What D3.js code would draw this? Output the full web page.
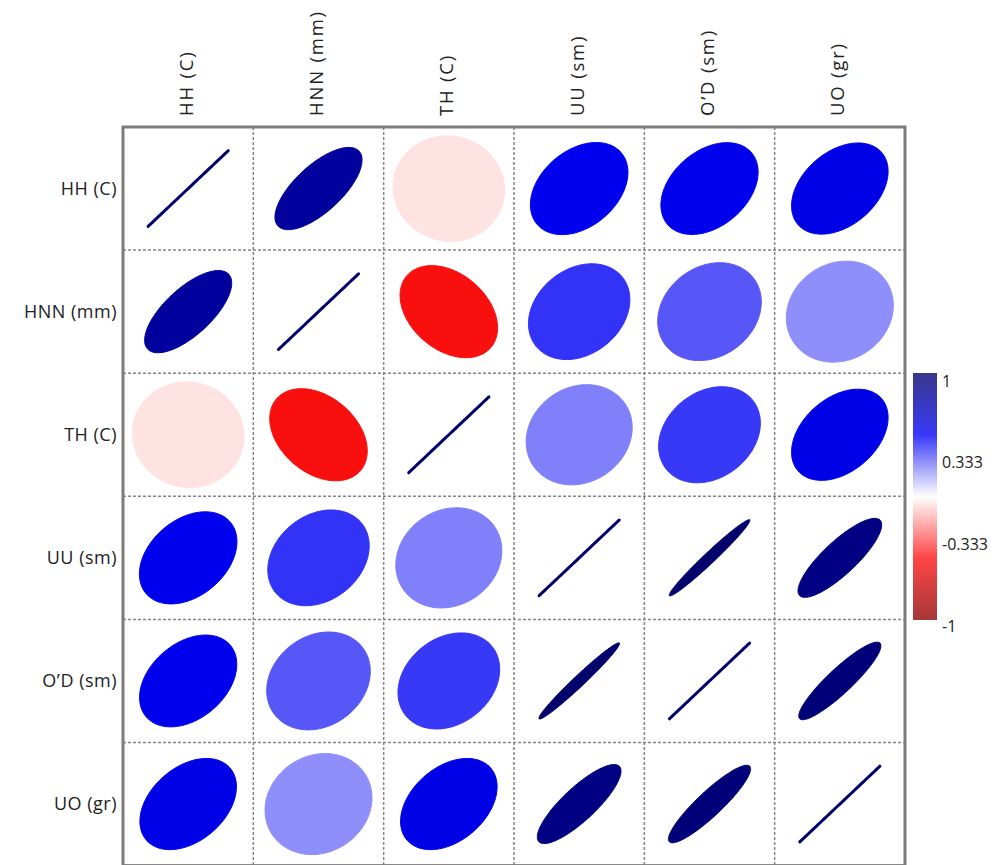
<!DOCTYPE html>
<html>
<head>
<meta charset="utf-8">
<script src="https://cdn.jsdelivr.net/npm/d3@7"></script>
<style>
  html, body { margin: 0; padding: 0; background: #ffffff; }
  svg { display: block; }
  text { font-family: "Open Sans", "Noto Sans", sans-serif; fill: #222; }
</style>
</head>
<body>
<svg id="chart" width="1006" height="865"></svg>
<script>
// ---- data ----
const variables = ["HH (C)", "HNN (mm)", "TH (C)", "UU (sm)", "O\u2019D (sm)", "UO (gr)"];
// correlations, row by row
const rowHH  = [1.00, 0.82, -0.06, 0.52, 0.53, 0.55];
const rowHNN = [0.82, 1.00, -0.52, 0.40, 0.33, 0.22];
const rowTH  = [-0.06, -0.52, 1.00, 0.25, 0.39, 0.55];
const rowUU  = [0.52, 0.40, 0.25, 1.00, 0.99, 0.91];
const rowOD  = [0.53, 0.33, 0.39, 0.99, 1.00, 0.95];
const rowUO  = [0.55, 0.22, 0.55, 0.91, 0.95, 1.00];
const legendTicks = [1, 0.333, -0.333, -1];
const legendTickLabels = ["1", "0.333", "-0.333", "-1"];

const matrix = [rowHH, rowHNN, rowTH, rowUU, rowOD, rowUO];

// ---- layout ----
const svg = d3.select("#chart");
const plotLeft = 123, plotTop = 127, plotRight = 905, cellH = 123.1;
const plotBottom = plotTop + cellH * variables.length;

const x = d3.scaleBand().domain(variables).range([plotLeft, plotRight]);
const y = d3.scaleBand().domain(variables).range([plotTop, plotBottom]);

const color = d3.scaleLinear()
  .domain([-1, -0.5, 0, 0.5, 1])
  .range(["#8b0000", "#ff1010", "#ffffff", "#0000f5", "#00006a"])
  .interpolate(d3.interpolateRgb);

const cells = [];
matrix.forEach((row, i) => row.forEach((r, j) => cells.push({row: variables[i], col: variables[j], r})));

// ellipse path: major axis fixed, minor axis = sqrt(1 - |r|) of it
const scaleFill = 0.87;
function ellipsePath(d) {
  const cx = x(d.col) + x.bandwidth() / 2;
  const cy = y(d.row) + y.bandwidth() / 2;
  const hx = scaleFill * x.bandwidth() / 2;
  const hy = scaleFill * y.bandwidth() / 2;
  const s = d.r >= 0 ? 1 : -1;
  const g = Math.sqrt(Math.max(0, 1 - Math.abs(d.r)));
  const ux = 1 / Math.SQRT2, uy = -s / Math.SQRT2;
  const vx = 1 / Math.SQRT2, vy = s / Math.SQRT2;
  const pts = d3.range(0, 121).map(k => {
    const t = k / 120 * 2 * Math.PI;
    const px = Math.cos(t) * ux + g * Math.sin(t) * vx;
    const py = Math.cos(t) * uy + g * Math.sin(t) * vy;
    return [cx + hx * px, cy + hy * py];
  });
  return d3.line()(pts) + "Z";
}

// ellipses
svg.append("g").selectAll("path")
  .data(cells)
  .join("path")
  .attr("d", ellipsePath)
  .attr("fill", d => color(d.r))
  .attr("stroke", d => color(d.r))
  .attr("stroke-width", d => d.r >= 0.999 ? 3 : 1)
  .attr("stroke-linejoin", "round")
  .attr("stroke-linecap", "round");

// inner dashed grid
const grid = svg.append("g");
variables.slice(1).forEach(v => {
  grid.append("line")
    .attr("x1", x(v)).attr("x2", x(v)).attr("y1", plotTop).attr("y2", plotBottom)
    .attr("stroke", "#858585").attr("stroke-width", 1.5).attr("stroke-dasharray", "3,2");
  grid.append("line")
    .attr("y1", y(v)).attr("y2", y(v)).attr("x1", plotLeft).attr("x2", plotRight)
    .attr("stroke", "#858585").attr("stroke-width", 1.5).attr("stroke-dasharray", "3,2");
});

// outer border
svg.append("rect")
  .attr("x", plotLeft).attr("y", plotTop)
  .attr("width", plotRight - plotLeft).attr("height", plotBottom - plotTop)
  .attr("fill", "none").attr("stroke", "#7c7c7c").attr("stroke-width", 3);

// row labels
svg.append("g").selectAll("text")
  .data(variables)
  .join("text")
  .attr("x", plotLeft - 6)
  .attr("y", d => y(d) + y.bandwidth() / 2)
  .attr("dy", "0.35em")
  .attr("text-anchor", "end")
  .attr("font-size", 18)
  .attr("letter-spacing", 0.5)
  .text(d => d);

// column labels (rotated)
svg.append("g").selectAll("text")
  .data(variables)
  .join("text")
  .attr("transform", d => `translate(${x(d) + x.bandwidth() / 2 - 2},${plotTop - 11}) rotate(-90)`)
  .attr("dy", "0.35em")
  .attr("text-anchor", "start")
  .attr("font-size", 18.5)
  .attr("letter-spacing", 1.8)
  .text(d => d);

// legend
const lgX = 913, lgW = 24, lgTop = 373, lgBot = 620;
const defs = svg.append("defs");
const grad = defs.append("linearGradient")
  .attr("id", "lg").attr("x1", 0).attr("x2", 0).attr("y1", 0).attr("y2", 1);
d3.range(0, 41).forEach(k => {
  const v = 1 - 2 * k / 40;
  grad.append("stop")
    .attr("offset", (k / 40 * 100) + "%")
    .attr("stop-color", color(v));
});
svg.append("rect")
  .attr("x", lgX).attr("y", lgTop).attr("width", lgW).attr("height", lgBot - lgTop)
  .attr("fill", "url(#lg)").attr("opacity", 0.78);

const labelPos = d3.scaleLinear().domain([1, -1]).range([381, 626]);
svg.append("g").selectAll("text")
  .data(legendTicks)
  .join("text")
  .attr("x", lgX + lgW + 5)
  .attr("y", d => labelPos(d))
  .attr("dy", "0.35em")
  .attr("font-size", 16)
  .text((d, i) => legendTickLabels[i]);
</script>
</body>
</html>
